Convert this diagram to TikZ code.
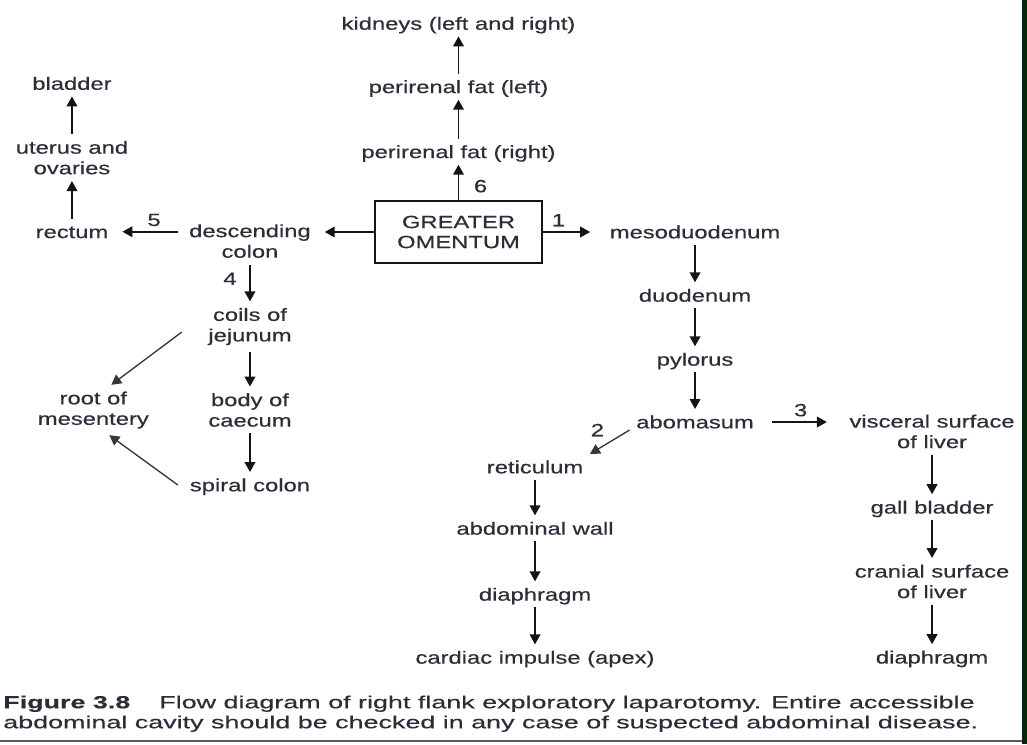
\documentclass[tikz,border=0pt]{standalone}
\usepackage{fontspec}
\setmainfont{Liberation Sans}[FakeStretch=1.34, FakeBold=0.4]
\newfontfamily\captionfont{Liberation Sans}[FakeStretch=1.54, FakeBold=0.4]
\usetikzlibrary{arrows.meta, positioning}

\definecolor{ink}{RGB}{45,45,58}
\definecolor{wire}{RGB}{20,20,20}
\definecolor{rimgreen}{RGB}{4,40,8}

\begin{document}
\begin{tikzpicture}[x=0.75pt, y=-0.75pt, node distance=48pt, on grid, auto,
    >={Triangle[length=7.5pt, width=8pt]},
    organ/.style={inner sep=0pt, outer sep=5pt, text=ink,
        font=\fontsize{13.3}{15.4}\selectfont, text height=9.5pt, text depth=0pt},
    organs/.style={inner sep=0pt, outer sep=5pt, text=ink, align=center,
        font=\fontsize{13.3}{15.4}\selectfont},
    box/.style={draw=wire, line width=1.5pt, minimum width=125pt, minimum height=46.5pt,
        inner sep=0pt, outer sep=0.75pt, text=ink, align=center,
        font=\fontsize{13.3}{15}\selectfont},
    num/.style={organ, outer sep=4.3pt}]

    \fill[white] (0,0) rectangle (1027,744);
    \useasboundingbox (0,0) rectangle (1027,744);

    \node[box] (omentum) at (458.5,232) {GREATER\\OMENTUM};
    \node[organ] (pfr) [above=60.2pt of omentum] {perirenal fat (right)};
    \node[organ] (pfl) [above=48.75pt of pfr] {perirenal fat (left)};
    \node[organ] (kidneys) [above=47.5pt of pfl] {kidneys (left and right)};

    \node[organ] (meso) [right=177.4pt of omentum] {mesoduodenum};
    \node[organ] (duo) [below=47.5pt of meso] {duodenum};
    \node[organ] (pyl) [below of=duo] {pylorus};
    \node[organ] (abo) [below=47pt of pyl] {abomasum};

    \node[organs] (visc) [below right=7.1pt and 177.75pt of abo] {visceral surface\\of liver};
    \node[organ] (gall) [below=56.8pt of visc] {gall bladder};
    \node[organs] (cran) [below=55.7pt of gall] {cranial surface\\of liver};
    \node[organ] (diaR) [below=56.8pt of cran] {diaphragm};

    \node[organ] (ret) [below left=33.75pt and 120pt of abo] {reticulum};
    \node[organ] (wall) [below=46pt of ret] {abdominal wall};
    \node[organ] (diaL) [below=49.5pt of wall] {diaphragm};
    \node[organ] (cardiac) [below=47.25pt of diaL] {cardiac impulse (apex)};

    \node[organs] (desc) [below left=6.8pt and 156.4pt of omentum] {descending\\colon};
    \node[organ] (rectum) [above left=7pt and 133.5pt of desc] {rectum};
    \node[organs] (uterus) [above=55.6pt of rectum] {uterus and\\ovaries};
    \node[organ] (bladder) [above=55.6pt of uterus] {bladder};

    \node[organs] (coils) [below=64.1pt of desc] {coils of\\jejunum};
    \node[organs] (caecum) [below=62.6pt of coils] {body of\\caecum};
    \node[organ] (spiral) [below=56.25pt of caecum] {spiral colon};
    \node[organs] (root) [left=117.5pt of caecum] {root of\\mesentery};

    \path[->, wire, line width=1.3pt]
    (omentum) edge node[num, swap, pos=.4, xshift=7.3pt] {6} (pfr)
    (pfr) edge (pfl)
    (pfl) edge (kidneys)
    (omentum) edge[shorten >=9.75pt] node[num, pos=.26] {1} (meso)
    (meso) edge (duo)
    (duo) edge (pyl)
    (pyl) edge (abo)
    ([xshift=9pt]abo.east) edge[shorten >=12pt] node[num, pos=.4] {3} (visc.west |- abo)
    (visc) edge (gall)
    (gall) edge (cran)
    (cran) edge (diaR)
    (ret) edge (wall)
    (wall) edge (diaL)
    (diaL) edge (cardiac)
    (omentum) edge[shorten >=5.5pt] (desc.east |- omentum)
    ([xshift=-3.3pt]desc.west |- rectum) edge[shorten >=5.6pt] node[num, swap, pos=.38] {5} (rectum)
    (rectum) edge (uterus)
    (uterus) edge (bladder)
    (desc) edge node[num, swap, pos=.38, xshift=-5.8pt] {4} (coils)
    (coils) edge (caecum)
    (caecum) edge (spiral);

    \path[->, wire!85, line width=1pt]
    ([yshift=-6pt]abo.west) edge node[num, swap] {2} (ret.north east)
    ([xshift=-14.9pt, yshift=-4.1pt]coils.west) edge ([xshift=13.5pt]root.north)
    ([xshift=-4pt]spiral.west) edge ([xshift=12pt]root.south);

    \node[anchor=north west, inner sep=0pt, align=left, text=ink,
        font=\captionfont\fontsize{13.1}{15}\selectfont] (caption) at (3,695.3)
        {\textbf{Figure 3.8}\hspace{21.75pt}Flow diagram of right flank exploratory laparotomy. Entire accessible\\abdominal cavity should be checked in any case of suspected abdominal disease.};

    \draw[gray!70!black, line width=1.5pt] (0,741) -- (1022,741);
    \fill[rimgreen] (1022,0) rectangle (1027,744);
\end{tikzpicture}
\end{document}
